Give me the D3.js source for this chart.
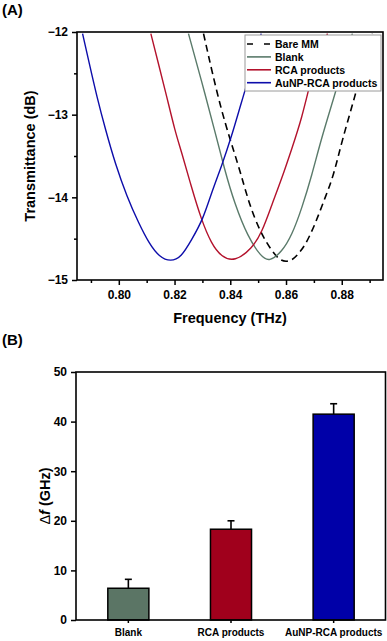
<!DOCTYPE html>
<html>
<head>
<meta charset="utf-8">
<script src="https://cdn.jsdelivr.net/npm/d3@7"></script>
<style>
    body { margin: 0; background: #fff; }
    svg { font-family: "Liberation Sans", Arial, sans-serif; font-weight: bold; }
    .axis path, .axis line { stroke: #000; }
    .axis text { font-weight: bold; fill: #000; }
</style>
</head>
<body>
<div id="chart"></div>
<script>
// panel A: transmittance curves [THz, dB]
var bareMM = [[0.8304, -12.02], [0.8368, -12.98], [0.8428, -13.59], [0.8468, -14.09], [0.8508, -14.42],
    [0.8543, -14.62], [0.8576, -14.76], [0.8601, -14.78], [0.8622, -14.76], [0.8643, -14.69],
    [0.8669, -14.58], [0.8704, -14.33], [0.8737, -14.03], [0.8770, -13.75], [0.8801, -13.31],
    [0.8850, -12.75], [0.8876, -12.40], [0.8910, -12.02]];
var blank = [[0.8250, -12.02], [0.8296, -12.58], [0.8344, -13.19], [0.8380, -13.67], [0.8415, -14.07],
    [0.8463, -14.48], [0.8511, -14.72], [0.8540, -14.78], [0.8585, -14.66], [0.8621, -14.46],
    [0.8657, -14.13], [0.8693, -13.73], [0.8725, -13.31], [0.8773, -12.78], [0.8808, -12.38],
    [0.8838, -12.02]];
var rca = [[0.8115, -12.02], [0.8142, -12.38], [0.8172, -12.78], [0.8201, -13.19], [0.8225, -13.45],
    [0.8260, -13.87], [0.8296, -14.27], [0.8332, -14.56], [0.8368, -14.72], [0.8416, -14.78],
    [0.8478, -14.62], [0.8514, -14.42], [0.8549, -14.09], [0.8585, -13.77], [0.8621, -13.41],
    [0.8657, -13.04], [0.8689, -12.58], [0.8713, -12.30], [0.8749, -12.02]];
var aunpRca = [[0.7870, -12.02], [0.7894, -12.38], [0.7921, -12.78], [0.7953, -13.19], [0.7987, -13.59],
    [0.8029, -13.99], [0.8071, -14.31], [0.8109, -14.56], [0.8145, -14.72], [0.8186, -14.78],
    [0.8225, -14.72], [0.8260, -14.52], [0.8302, -14.27], [0.8336, -13.91], [0.8368, -13.63],
    [0.8404, -13.27], [0.8439, -12.86], [0.8475, -12.46], [0.8511, -12.02]];
var seriesNames = ["Bare MM", "Blank", "RCA products", "AuNP-RCA products"];
var freqTicks = [0.80, 0.82, 0.84, 0.86, 0.88];
var transTicks = [-15, -14, -13, -12];

// panel B: frequency shift
var groups = ["Blank", "RCA products", "AuNP-RCA products"];
var shift = [6.4, 18.3, 41.5];
var shiftErr = [1.8, 1.7, 2.1];
var shiftTicks = [0, 10, 20, 30, 40, 50];

var svg = d3.select("#chart").append("svg").attr("width", 387).attr("height", 641);

// ---------- (A) ----------
var lineColors = ["#000", "#5a7a6a", "#b3122c", "#0d0daa"];
var x = d3.scaleLinear().domain([0.785, 0.8948]).range([77, 383]);
var y = d3.scaleLinear().domain([-15, -12]).range([280, 32]);

svg.append("clipPath").attr("id", "clipA")
        .append("rect").attr("x", 77).attr("y", 32).attr("width", 306).attr("height", 248);

var line = d3.line()
        .x(function (d) { return x(d[0]); })
        .y(function (d) { return y(d[1]); })
        .curve(d3.curveBasis);

var curves = svg.append("g").attr("clip-path", "url(#clipA)");
[bareMM, blank, rca, aunpRca].forEach(function (s, i) {
    curves.append("path")
            .datum(s)
            .attr("fill", "none")
            .attr("stroke", lineColors[i])
            .attr("stroke-width", i === 0 ? 1.6 : 1.4)
            .attr("stroke-dasharray", i === 0 ? "7,4.5" : null)
            .attr("d", line);
});

// minor ticks
svg.append("g").attr("class", "axis")
        .attr("transform", "translate(0,280)")
        .call(d3.axisBottom(x).tickValues(d3.range(0.79, 0.895, 0.02)).tickSize(3).tickFormat(""))
        .select(".domain").remove();
svg.append("g").attr("class", "axis")
        .attr("transform", "translate(77,0)")
        .call(d3.axisLeft(y).tickValues([-14.5, -13.5, -12.5]).tickSize(3).tickFormat(""))
        .select(".domain").remove();

var xAxA = svg.append("g").attr("class", "axis")
        .attr("transform", "translate(0,280)")
        .call(d3.axisBottom(x).tickValues(freqTicks).tickSize(5).tickPadding(5).tickFormat(d3.format(".2f")));
xAxA.select(".domain").remove();
var yAxA = svg.append("g").attr("class", "axis")
        .attr("transform", "translate(77,0)")
        .call(d3.axisLeft(y).tickValues(transTicks).tickSize(5).tickPadding(4).tickFormat(d3.format("d")));
yAxA.select(".domain").remove();
xAxA.selectAll("text").style("font-size", "12px");
yAxA.selectAll("text").style("font-size", "12px");
svg.selectAll(".axis line").attr("stroke-width", 1.5);

svg.append("rect")
        .attr("x", 77).attr("y", 32).attr("width", 306).attr("height", 248)
        .attr("fill", "none").attr("stroke", "#000").attr("stroke-width", 1.6);

// legend
var leg = svg.append("g").attr("transform", "translate(245,35)");
leg.append("rect").attr("width", 136).attr("height", 56)
        .attr("fill", "#fff").attr("stroke", "#9a9a9a").attr("stroke-width", 1);
seriesNames.forEach(function (n, i) {
    var ly = 9 + i * 12.9;
    leg.append("line")
            .attr("x1", 2).attr("x2", 26).attr("y1", ly).attr("y2", ly)
            .attr("stroke", lineColors[i]).attr("stroke-width", 1.6)
            .attr("stroke-dasharray", i === 0 ? "6,11" : null);
    leg.append("text")
            .attr("x", 30).attr("y", ly + 3.8)
            .attr("font-size", "10.5px")
            .text(n);
});

svg.append("text").attr("x", 230).attr("y", 323)
        .attr("text-anchor", "middle").attr("font-size", "14.5px")
        .text("Frequency (THz)");
svg.append("text")
        .attr("transform", "translate(35,156) rotate(-90)")
        .attr("text-anchor", "middle").attr("font-size", "14.5px")
        .text("Transmittance (dB)");
svg.append("text").attr("x", 2).attr("y", 15).attr("font-size", "15px").text("(A)");

// ---------- (B) ----------
var barColors = ["#5b7565", "#a0001c", "#0000a8"];
var xb = d3.scaleBand().domain(groups).range([76, 386]).paddingInner(0.6).paddingOuter(0.31);
var yb = d3.scaleLinear().domain([0, 50]).range([620, 372]);

var bars = svg.append("g");
groups.forEach(function (gname, i) {
    var cx = xb(gname) + xb.bandwidth() / 2;
    bars.append("line")
            .attr("x1", cx).attr("x2", cx)
            .attr("y1", yb(shift[i])).attr("y2", yb(shift[i] + shiftErr[i]))
            .attr("stroke", "#000").attr("stroke-width", 1.6);
    bars.append("line")
            .attr("x1", cx - 3.5).attr("x2", cx + 3.5)
            .attr("y1", yb(shift[i] + shiftErr[i])).attr("y2", yb(shift[i] + shiftErr[i]))
            .attr("stroke", "#000").attr("stroke-width", 1.6);
    bars.append("rect")
            .attr("x", xb(gname)).attr("width", xb.bandwidth())
            .attr("y", yb(shift[i])).attr("height", yb(0) - yb(shift[i]))
            .attr("fill", barColors[i]).attr("stroke", "#000").attr("stroke-width", 1.5);
});

var xAxB = svg.append("g").attr("class", "axis")
        .attr("transform", "translate(0,620)")
        .call(d3.axisBottom(xb).tickSize(3).tickPadding(6));
xAxB.select(".domain").remove();
xAxB.selectAll("text").style("font-size", "10px");
var yAxB = svg.append("g").attr("class", "axis")
        .attr("transform", "translate(76,0)")
        .call(d3.axisLeft(yb).tickValues(shiftTicks).tickSize(5).tickPadding(4));
yAxB.select(".domain").remove();
yAxB.selectAll("text").style("font-size", "12px");
svg.selectAll(".axis line").attr("stroke-width", 1.5);

svg.append("rect")
        .attr("x", 76).attr("y", 372).attr("width", 309.5).attr("height", 248)
        .attr("fill", "none").attr("stroke", "#000").attr("stroke-width", 1.6);

var yl = svg.append("text")
        .attr("transform", "translate(50,496) rotate(-90)")
        .attr("text-anchor", "middle").attr("font-size", "14.5px");
yl.append("tspan").attr("font-weight", "normal").text("\u0394");
yl.append("tspan").attr("font-style", "italic").text("f");
yl.append("tspan").text(" (GHz)");

svg.append("text").attr("x", 2).attr("y", 345).attr("font-size", "15px").text("(B)");
</script>
</body>
</html>
